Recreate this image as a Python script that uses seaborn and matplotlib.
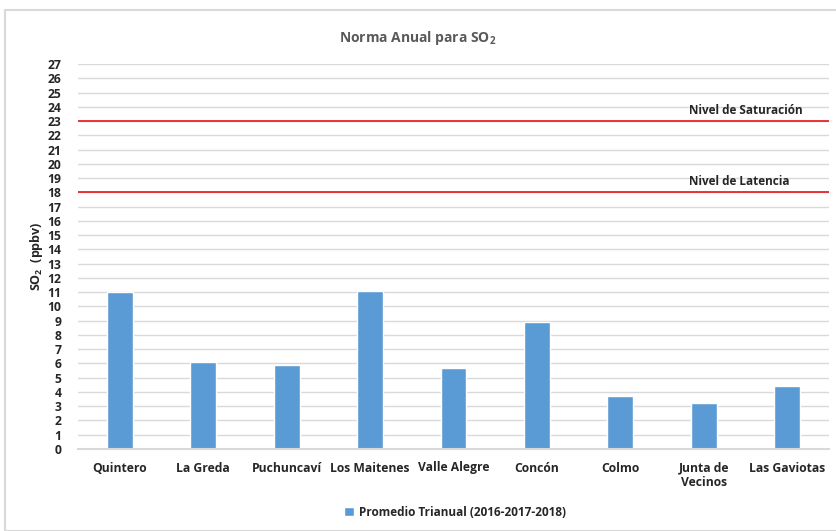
import pandas as pd
import matplotlib.pyplot as plt
import seaborn as sns
from matplotlib.patches import Rectangle

# Data
estaciones = ['Quintero', 'La Greda', 'Puchuncaví', 'Los Maitenes', 'Valle Alegre',
              'Concón', 'Colmo', 'Junta de\nVecinos', 'Las Gaviotas']
promedio = [11.0, 6.1, 5.9, 11.1, 5.7, 8.9, 3.7, 3.2, 4.4]
nivel_saturacion = 23
nivel_latencia = 18
yticks = list(range(0, 28))

df = pd.DataFrame({'Estacion': estaciones, 'SO2': promedio})

sns.set_style('white')
plt.rcParams['font.family'] = ['Open Sans', 'DejaVu Sans']
plt.rcParams['font.weight'] = 'bold'
plt.rcParams['mathtext.fontset'] = 'custom'
plt.rcParams['mathtext.rm'] = 'Open Sans:bold'
plt.rcParams['mathtext.bf'] = 'Open Sans:bold'

fig = plt.figure(figsize=(8.36, 5.31), dpi=100)
ax = fig.add_axes([78 / 836, 1 - 449 / 531, (829 - 78) / 836, (449 - 64) / 531])

# chart frame
fig.patches.append(Rectangle((5 / 836, 0), 1, 1 - 10 / 531, transform=fig.transFigure,
                             fill=False, edgecolor='#d9d9d9', lw=1.5))

sns.barplot(data=df, x='Estacion', y='SO2', color='#5b9bd5', width=0.31,
            saturation=1, ax=ax, label='Promedio Trianual (2016-2017-2018)', legend=False)

ax.axhline(nivel_saturacion, color='#e8141b', lw=1.2, zorder=3)
ax.axhline(nivel_latencia, color='#e8141b', lw=1.2, zorder=3)
ax.text(0.814, nivel_saturacion + 0.3, 'Nivel de Saturación', transform=ax.get_yaxis_transform(),
        fontsize=8.5, fontweight='bold', va='bottom', ha='left')
ax.text(0.814, nivel_latencia + 0.3, 'Nivel de Latencia', transform=ax.get_yaxis_transform(),
        fontsize=8.5, fontweight='bold', va='bottom', ha='left')

ax.set_ylim(0, 27)
ax.set_yticks(yticks)
ax.set_xlim(-0.5, len(estaciones) - 0.5)
ax.yaxis.grid(True, color='#d9d9d9', lw=1)
ax.set_axisbelow(True)
for s in ['left', 'right', 'top']:
    ax.spines[s].set_visible(False)
ax.spines['bottom'].set_color('#d9d9d9')
ax.spines['bottom'].set_linewidth(1.5)
ax.tick_params(axis='both', length=0, labelsize=8.7)
ax.tick_params(axis='y', pad=12)
ax.tick_params(axis='x', pad=9)
for t in ax.get_xticklabels() + ax.get_yticklabels():
    t.set_fontweight('bold')

ax.set_xlabel('')
ax.set_ylabel('SO$_2$  (ppbv)', fontsize=9, fontweight='bold', labelpad=2)
fig.text(0.5, 1 - 38 / 531, 'Norma Anual para SO$_2$', fontsize=10, fontweight='bold',
         color='#595959', ha='center', va='center')

handles, labels = ax.get_legend_handles_labels()
fig.legend(handles, labels, loc='center', bbox_to_anchor=(455 / 836, 1 - 512 / 531),
           frameon=False, handlelength=0.8, handleheight=0.8, handletextpad=0.4,
           prop={'weight': 'bold', 'size': 8.5, 'family': ['Open Sans', 'DejaVu Sans']})

fig.savefig('out.png', dpi=100)
